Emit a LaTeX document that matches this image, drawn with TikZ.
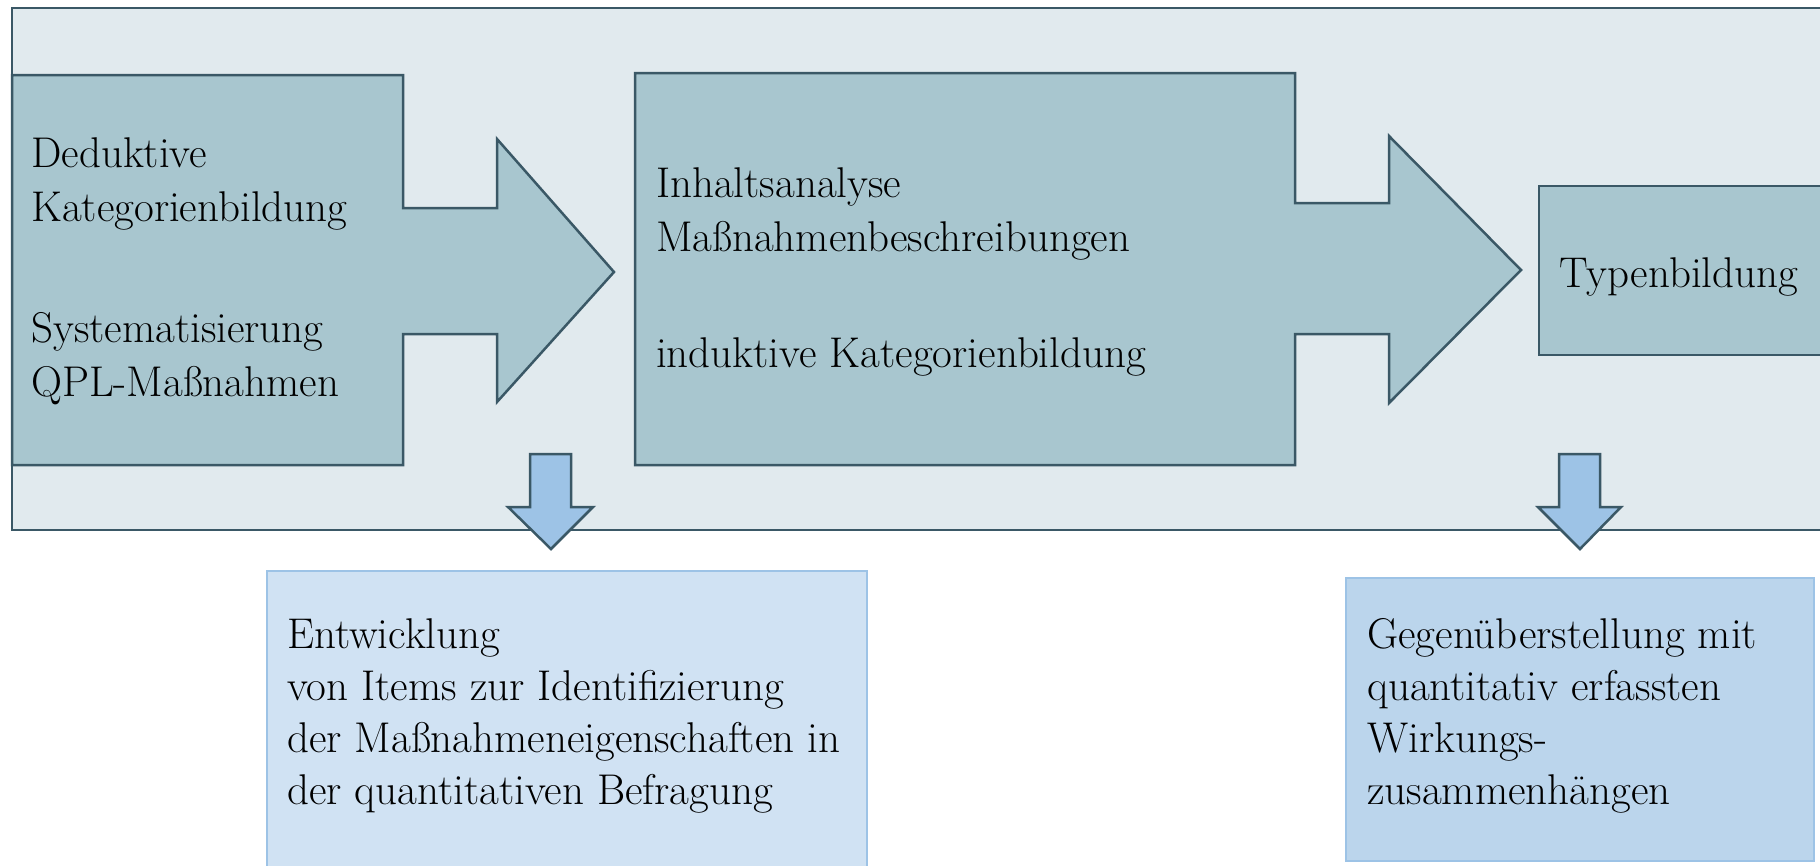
\documentclass[tikz,border=0pt]{standalone}
\usepackage{fontspec}
\definecolor{bgc}{HTML}{E1EAEE}
\definecolor{boxc}{HTML}{A8C6CF}
\definecolor{edgec}{HTML}{3A5866}
\definecolor{downc}{HTML}{9DC3E6}
\definecolor{lightc}{HTML}{D0E2F3}
\definecolor{midc}{HTML}{BBD5EC}
\begin{document}
\begin{tikzpicture}[x=1pt,y=-1pt,
  bgpanel/.style={fill=bgc,draw=edgec,line width=2.5pt},
  flowshape/.style={fill=boxc,draw=edgec,line width=2.5pt,line join=miter},
  downarrow/.style={fill=downc,draw=edgec,line width=2.5pt,line join=miter},
  resultbox/.style={draw=downc,line width=2pt},
  txt/.style={inner sep=0pt,align=left,anchor=base west,font=\fontsize{43}{54}\selectfont}]
\useasboundingbox (0,0) rectangle (1820,865);
\clip (0,0) rectangle (1820,865);
% background panel
\draw[bgpanel] (12,8) rectangle (1850,530);
% first block with arrow
\draw[flowshape] (12,75) -- (403,75) -- (403,208) -- (497,208) -- (497,139) -- (614,272)
  -- (497,402) -- (497,334) -- (403,334) -- (403,465) -- (12,465) -- cycle;
% second block with arrow
\draw[flowshape] (635,73) -- (1295,73) -- (1295,203) -- (1389,203) -- (1389,136) -- (1521,270)
  -- (1389,403) -- (1389,334) -- (1295,334) -- (1295,465) -- (635,465) -- cycle;
% third block
\draw[flowshape] (1539,186) rectangle (1850,355);
% down arrows
\draw[downarrow] (530,454) -- (571,454) -- (571,507) -- (593,507) -- (551,549) -- (508,507) -- (530,507) -- cycle;
\draw[downarrow] (1559,454) -- (1600,454) -- (1600,507) -- (1621,507) -- (1580,549) -- (1538,507) -- (1559,507) -- cycle;
% result boxes
\draw[resultbox,fill=lightc] (267,571) rectangle (867,880);
\draw[resultbox,fill=midc] (1346,578) rectangle (1814,861);
% texts (anchored at the baseline of the last line)
\node[txt] (t1) at (31,396) {Deduktive\\Kategorienbildung\\[67pt]Systematisierung\\QPL-Maßnahmen};
\node[txt] (t2) at (656,367) {Inhaltsanalyse\\Maßnahmenbeschreibungen\\[62pt]induktive Kategorienbildung};
\node[txt] (t3) at (1559,287) {Typenbildung};
\node[txt,font=\fontsize{43}{52}\selectfont] (t4) at (287,804) {Entwicklung\\von Items zur Identifizierung\\der Maßnahmeneigenschaften in\\der quantitativen Befragung};
\node[txt,font=\fontsize{43}{52}\selectfont] (t5) at (1367,804) {Gegenüberstellung mit\\quantitativ erfassten\\Wirkungs-\\zusammenhängen};
\end{tikzpicture}
\end{document}
